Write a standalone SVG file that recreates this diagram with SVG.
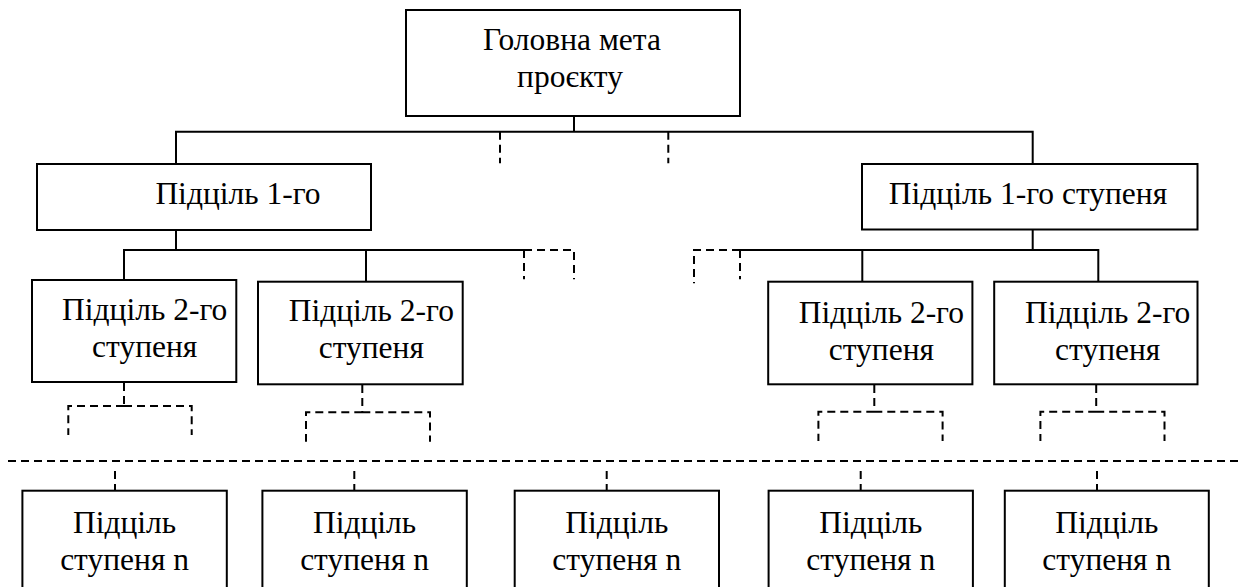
<svg xmlns="http://www.w3.org/2000/svg" width="1246" height="587" viewBox="0 0 1246 587">
<style>
.box{fill:#fff;stroke:#000;stroke-width:2}
.ln{fill:none;stroke:#000;stroke-width:2}
.dl{fill:none;stroke:#000;stroke-width:2;stroke-dasharray:8 5}
.t{font-family:'Liberation Serif','Times New Roman',serif;font-size:31.5px;fill:#000;text-anchor:middle}
</style>
<rect width="1246" height="587" fill="#fff"/>
<g id="connectors">
<path class="ln" d="M574 116V131.7M176 163.7V131.7H1032.7V163.7"/>
<path class="ln" d="M176 230V250M124 280V250H524M366 250V281.7"/>
<path class="ln" d="M1032.7 229.3V250M740 250H1098.3V281.7M862.3 250V281.7"/>
<path class="dl" d="M500 131.7V163.3M668.3 131.7V163.3"/>
<path class="dl" d="M524 250H574V279.3M524 250V279.3"/>
<path class="dl" d="M740 250H694V283.3M740 250V279.3"/>
<path class="dl" d="M124 383V406M124 406H68.3V435M124 406H191.7V435"/>
<path class="dl" d="M362.3 385V412.3M362.3 412.3H306V441.7M362.3 412.3H430V441.7"/>
<path class="dl" d="M874.3 385V411.7M874.3 411.7H818.4V441M874.3 411.7H942.6V441"/>
<path class="dl" d="M1096.2 385V411.7M1096.2 411.7H1040.4V441M1096.2 411.7H1164.5V441"/>
<path class="dl" d="M8 461H1242"/>
<path class="dl" d="M115 471V490.7M354.3 471V490.7M606.7 471V490.7M860.7 471V490.7M1097 471V490.7"/>
</g>
<g id="goal">
<rect class="box" x="406" y="10" width="334" height="106"/>
<text class="t" x="572" y="50">Головна мета</text>
<text class="t" x="570" y="87">проєкту</text>
</g>
<g id="sub1-left">
<rect class="box" x="37" y="164" width="334" height="66"/>
<text class="t" x="238" y="203.5">Підціль 1-го</text>
</g>
<g id="sub1-right">
<rect class="box" x="862" y="164" width="335.5" height="65.5"/>
<text class="t" x="1028" y="203.5">Підціль 1-го ступеня</text>
</g>
<g id="sub2-a">
<rect class="box" x="32" y="280" width="204.3" height="102"/>
<text class="t" x="144.7" y="320">Підціль 2-го</text>
<text class="t" x="144.7" y="357">ступеня</text>
</g>
<g id="sub2-b">
<rect class="box" x="258" y="281.7" width="204.7" height="102.6"/>
<text class="t" x="371.3" y="321">Підціль 2-го</text>
<text class="t" x="371.3" y="358">ступеня</text>
</g>
<g id="sub2-c">
<rect class="box" x="768.2" y="281.7" width="204.2" height="102.6"/>
<text class="t" x="881.4" y="323">Підціль 2-го</text>
<text class="t" x="881.4" y="360">ступеня</text>
</g>
<g id="sub2-d">
<rect class="box" x="994.2" y="281.7" width="203.3" height="102.6"/>
<text class="t" x="1107.7" y="323">Підціль 2-го</text>
<text class="t" x="1107.7" y="360">ступеня</text>
</g>
<g id="subn-1">
<rect class="box" x="22.4" y="490.7" width="204.4" height="130"/>
<text class="t" x="124.6" y="532.7">Підціль</text>
<text class="t" x="124.6" y="570">ступеня n</text>
</g>
<g id="subn-2">
<rect class="box" x="262.4" y="490.7" width="204.4" height="130"/>
<text class="t" x="364.6" y="532.7">Підціль</text>
<text class="t" x="364.6" y="570">ступеня n</text>
</g>
<g id="subn-3">
<rect class="box" x="514.7" y="490.7" width="204.3" height="130"/>
<text class="t" x="616.8" y="532.7">Підціль</text>
<text class="t" x="616.8" y="570">ступеня n</text>
</g>
<g id="subn-4">
<rect class="box" x="768.6" y="490.7" width="204.3" height="130"/>
<text class="t" x="870.8" y="532.7">Підціль</text>
<text class="t" x="870.8" y="570">ступеня n</text>
</g>
<g id="subn-5">
<rect class="box" x="1004.8" y="490.7" width="204" height="130"/>
<text class="t" x="1106.8" y="532.7">Підціль</text>
<text class="t" x="1106.8" y="570">ступеня n</text>
</g>
</svg>
